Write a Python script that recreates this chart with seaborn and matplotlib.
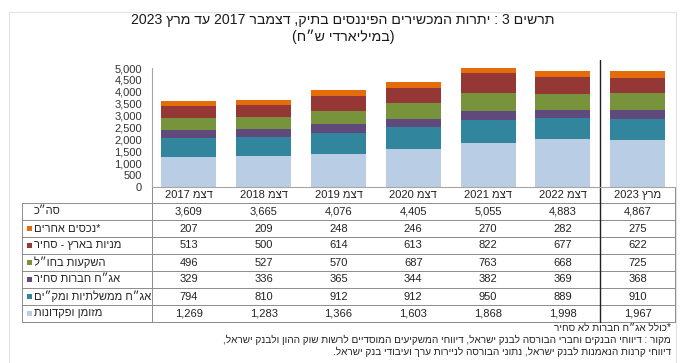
import re
import matplotlib
matplotlib.use('Agg')
import numpy as np
import pandas as pd
import seaborn as sns
import matplotlib.pyplot as plt
from matplotlib.patches import Rectangle
from matplotlib.ticker import FuncFormatter

# ---- data (billions NIS) ----
periods = ['דצמ 2017', 'דצמ 2018', 'דצמ 2019', 'דצמ 2020', 'דצמ 2021', 'דצמ 2022', 'מרץ 2023']
totals = [3609, 3665, 4076, 4405, 5055, 4883, 4867]

# top of the stack first (same order as the table rows)
series_names = ['*נכסים אחרים', 'מניות בארץ - סחיר', 'השקעות בחו״ל',
                'אג״ח חברות סחיר', 'אג״ח ממשלתיות ומק״ים', 'מזומן ופקדונות']
other_assets = [207, 209, 248, 246, 270, 282, 275]
stocks_local = [513, 500, 614, 613, 822, 677, 622]
abroad = [496, 527, 570, 687, 763, 668, 725]
corp_bonds = [329, 336, 365, 344, 382, 369, 368]
gov_bonds = [794, 810, 912, 912, 950, 889, 910]
cash_deposits = [1269, 1283, 1366, 1603, 1868, 1998, 1967]
series_values = [other_assets, stocks_local, abroad, corp_bonds, gov_bonds, cash_deposits]
series_colors = ['#e46c0a', '#953735', '#77933c', '#604a7b', '#31859c', '#b9cde5']

y_ticks = [0, 500, 1000, 1500, 2000, 2500, 3000, 3500, 4000, 4500, 5000]

title_1 = 'תרשים 3 : יתרות המכשירים הפיננסים בתיק, דצמבר 2017 עד מרץ 2023'
title_2 = '(במיליארדי ש״ח)'
notes = ['*כולל אג״ח חברות לא סחיר',
         'מקור : דיווחי הבנקים וחברי הבורסה לבנק ישראל, דיווחי המשקיעים המוסדיים לרשות שוק ההון ולבנק ישראל,',
         'דיווחי קרנות הנאמנות לבנק ישראל, נתוני הבורסה לניירות ערך ועיבודי בנק ישראל.']

MIRROR = str.maketrans('()[]', ')(][')


def heb(s):
    # crude visual ordering for RTL text (matplotlib has no bidi)
    parts = re.findall(r'\d[\d,.]*\d|\d|[^\d]+', s)
    out = []
    for p in reversed(parts):
        if p[0].isdigit():
            out.append(p)
        else:
            out.append(p[::-1].translate(MIRROR))
    return ''.join(out)


sns.set_style('white')
plt.rcParams['font.family'] = ['Liberation Sans', 'DejaVu Sans']

W, H = 695, 363
fig = plt.figure(figsize=(W / 100, H / 100), dpi=100)


def px(x0, y0, x1, y1):
    return [x0 / W, 1 - y1 / H, (x1 - x0) / W, (y1 - y0) / H]


# overlay axes in pixel coords for frame, title, table and notes
ov = fig.add_axes([0, 0, 1, 1])
ov.set_xlim(0, W)
ov.set_ylim(H, 0)
ov.axis('off')

ax = fig.add_axes(px(151.5, 68, 675, 187))

# stacked bars: draw cumulative heights from the top layer down
cum = np.cumsum(np.array(series_values[::-1]), axis=0)[::-1]
for vals, col in zip(cum, series_colors):
    sns.barplot(x=periods, y=vals, color=col, saturation=1, width=0.735,
                ax=ax, edgecolor='none', linewidth=0)

ax.set_xlim(-0.5, len(periods) - 0.5)
ax.set_ylim(0, 5000)
ax.set_yticks(y_ticks)
ax.yaxis.set_major_formatter(FuncFormatter(lambda v, p: f'{int(v):,}'))
ax.tick_params(axis='y', length=0, pad=7, labelsize=8, colors='#333333')
ax.tick_params(axis='x', length=0, labelbottom=False)
ax.set_xlabel('')
ax.set_ylabel('')
for s in ['top', 'right']:
    ax.spines[s].set_visible(False)
for s in ['left', 'bottom']:
    ax.spines[s].set_color('#a6a6a6')
    ax.spines[s].set_linewidth(0.8)

# divider between December series and March 2023
ax.axvline(len(periods) - 1.5, ymin=-(322 - 187) / 119, ymax=(187 - 60) / 119,
           clip_on=False, color='#222222', lw=1.0)

# frame
ov.add_patch(Rectangle((9, 12), 667, 360, fill=False, edgecolor='#e3e3e3', lw=0.8))

# title
ov.text(343, 20, heb(title_1), ha='center', va='center', fontsize=10.2, color='#1a1a1a')
ov.text(343, 37, heb(title_2), ha='center', va='center', fontsize=10.2, color='#1a1a1a')

# ---- table under the chart ----
col_x = [ax.transData.transform((i, 0))[0] for i in range(len(periods))]
left, lab_r, right = 22, 151.5, 675
row_lines = [203, 220, 237, 254, 271, 288, 305, 322]
line_c = '#8c8c8c'

for yl in row_lines:
    ov.plot([left, right], [yl, yl], color=line_c, lw=0.7)
ov.plot([left, left], [203, 322], color=line_c, lw=0.7)
ov.plot([lab_r, lab_r], [187, 322], color=line_c, lw=0.7)
ov.plot([right, right], [187, 322], color=line_c, lw=0.7)

for x, p in zip(col_x, periods):
    ov.text(x, 195.5, heb(p), ha='center', va='center', fontsize=8, color='#222222')

row_labels = ['סה״כ'] + series_names
row_data = [totals] + series_values
row_cols = [None] + series_colors
for r, (lab, vals, col) in enumerate(zip(row_labels, row_data, row_cols)):
    yc = (row_lines[r] + row_lines[r + 1]) / 2
    if col is not None:
        ov.add_patch(Rectangle((27, yc - 2.5), 5, 5, facecolor=col, edgecolor='none'))
    ov.text(33.5, yc, heb(lab), ha='left', va='center', fontsize=8, color='#222222')
    for x, v in zip(col_x, vals):
        ov.text(x, yc, f'{v:,}', ha='center', va='center', fontsize=8, color='#222222')

# notes
for yn, n in zip([328, 340, 352], notes):
    ov.text(671, yn, heb(n), ha='right', va='center', fontsize=7.2, color='#222222')

fig.savefig('out.png', dpi=100)
